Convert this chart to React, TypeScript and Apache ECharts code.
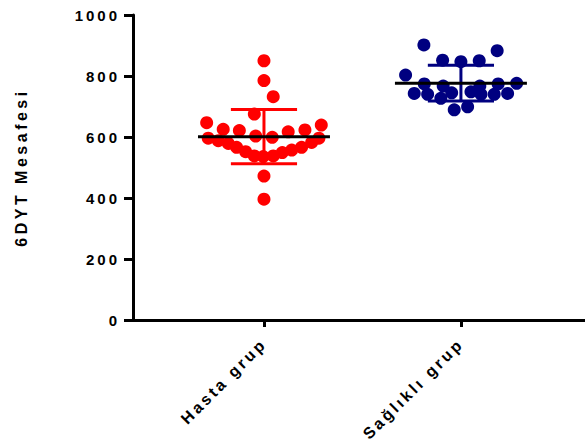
import React, { useEffect, useRef } from "react";
import * as echarts from "echarts";

// ---- data ----
const categories = ["Hasta grup", "Sağlıklı grup"];

// Hasta grup (patients): 6MWT distance values
const hastaValues = [
  850, 785, 732, 675, 647, 639, 625, 621, 617, 623, 603, 599, 596, 588,
  596, 579, 582, 566, 566, 552, 557, 538, 536, 538, 549, 472, 396,
];
// horizontal swarm offsets (category units) of each Hasta point
const hastaSwarm = [
  0, 0, 0.047, -0.049, -0.291, 0.291, -0.207, -0.125, 0.123, 0.208, -0.042,
  0.042, -0.283, -0.232, 0.279, -0.181, 0.242, -0.139, 0.191, -0.093, 0.141,
  -0.049, -0.004, 0.047, 0.093, 0, 0,
];

// Sağlıklı grup (healthy): 6MWT distance values
const saglikliValues = [
  902, 883, 852, 847, 850, 803, 776, 774, 767, 767, 774, 743, 740, 727, 745,
  748, 740, 740, 743, 689, 699,
];
const saglikliSwarm = [
  -0.188, 0.184, -0.093, 0, 0.093, -0.281, 0.283, -0.186, -0.09, 0.096, 0.189,
  -0.237, -0.169, -0.102, -0.047, 0.051, 0.102, 0.169, 0.237, -0.034, 0.034,
];

const yTicks = [0, 200, 400, 600, 800, 1000];

const RED = "#ff0000";
const NAVY = "#000080";

function meanSd(arr: number[]) {
  const m = arr.reduce((a, b) => a + b, 0) / arr.length;
  const v = arr.reduce((a, b) => a + (b - m) * (b - m), 0) / (arr.length - 1);
  return [m, Math.sqrt(v)];
}

export default function App() {
  const ref = useRef<HTMLDivElement>(null);
  useEffect(() => {
    if (!ref.current) return;
    const chart = echarts.init(ref.current, null, { renderer: "svg" });
    const groups = [hastaValues, saglikliValues];
    const swarms = [hastaSwarm, saglikliSwarm];
    const colors = [RED, NAVY];
    const stats = groups.map((g, i) => {
      const [m, s] = meanSd(g);
      return [i + 1, m, s, i];
    });

    const scatterSeries = groups.map((g, gi) => ({
      type: "scatter",
      data: g.map((v, k) => [gi + 1 + swarms[gi][k], v]),
      symbol: "circle",
      symbolSize: 13,
      itemStyle: { color: colors[gi], opacity: 1 },
      z: 2,
      silent: true,
    }));

    const font = "Liberation Sans, Arial, sans-serif";
    const option: any = {
      animation: false,
      grid: { left: 133, right: 0, top: 15, bottom: 127, containLabel: false },
      xAxis: {
        type: "value",
        min: 0.335,
        max: 2.63,
        axisLine: { show: true, onZero: false, lineStyle: { color: "#000", width: 3 } },
        axisTick: {
          show: true,
          customValues: [1, 2],
          length: 7,
          lineStyle: { color: "#000", width: 3 },
        },
        axisLabel: {
          show: true,
          customValues: [1, 2],
          formatter: (v: number) => categories[Math.round(v) - 1] ?? "",
          rotate: 45,
          margin: 21,
          color: "#000",
          fontFamily: font,
          fontWeight: "bold",
          fontSize: 16,
        },
        splitLine: { show: false },
      },
      yAxis: {
        type: "value",
        min: 0,
        max: 1000,
        interval: 200,
        name: "6DYT Mesafesi",
        nameLocation: "middle",
        nameGap: 104,
        nameTextStyle: {
          color: "#000",
          fontFamily: font,
          fontWeight: "bold",
          fontSize: 16,
        },
        axisLine: { show: true, lineStyle: { color: "#000", width: 3 } },
        axisTick: { show: true, length: 9, lineStyle: { color: "#000", width: 3 } },
        axisLabel: {
          color: "#000",
          margin: 13,
          fontFamily: font,
          fontWeight: "bold",
          fontSize: 15,
          formatter: (v: number) => (yTicks.includes(v) ? String(v) : ""),
        },
        splitLine: { show: false },
      },
      series: [
        ...scatterSeries,
        {
          type: "custom",
          data: stats,
          z: 5,
          silent: true,
          renderItem: (params: any, api: any) => {
            const x = api.value(0);
            const m = api.value(1);
            const s = api.value(2);
            const gi = api.value(3);
            const c = colors[gi];
            const top = api.coord([x, m + s]);
            const bot = api.coord([x, m - s]);
            const capL = api.coord([x - 0.168, m])[0];
            const capR = api.coord([x + 0.168, m])[0];
            const mL = api.coord([x - 0.335, m]);
            const mR = api.coord([x + 0.335, m]);
            const ls = { stroke: c, lineWidth: 3 };
            return {
              type: "group",
              children: [
                { type: "line", shape: { x1: top[0], y1: top[1], x2: bot[0], y2: bot[1] }, style: ls },
                { type: "line", shape: { x1: capL, y1: top[1], x2: capR, y2: top[1] }, style: ls },
                { type: "line", shape: { x1: capL, y1: bot[1], x2: capR, y2: bot[1] }, style: ls },
                {
                  type: "line",
                  shape: { x1: mL[0], y1: mL[1], x2: mR[0], y2: mR[1] },
                  style: { stroke: "#000", lineWidth: 3 },
                },
              ],
            };
          },
        },
      ],
    };
    chart.setOption(option);

    // Prism-style letter spacing on the texts
    const texts = ref.current.querySelectorAll("text");
    texts.forEach((t) => {
      const s = t.textContent || "";
      let sp = 0;
      if (/^\d+$/.test(s)) sp = 3;
      else if (s === "6DYT Mesafesi") sp = 3.5;
      else if (categories.includes(s)) sp = 3;
      if (sp) t.setAttribute("letter-spacing", String(sp));
    });

    return () => chart.dispose();
  }, []);
  return (
    <div
      ref={ref}
      style={{ position: "fixed", left: 0, top: 0, width: 585, height: 447, background: "#fff" }}
    />
  );
}
